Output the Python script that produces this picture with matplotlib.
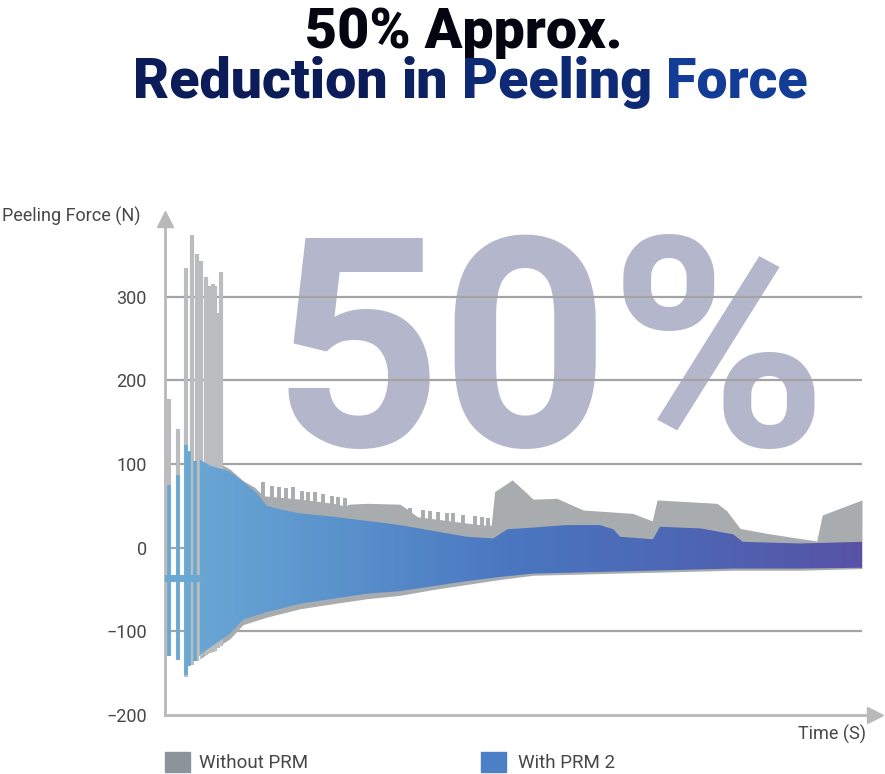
import numpy as np
import matplotlib
matplotlib.use('Agg')
import matplotlib.pyplot as plt
from matplotlib.patches import Rectangle
from matplotlib.colors import LinearSegmentedColormap

# ---- data ----
y_ticks = [-200, -100, 0, 100, 200, 300]
grid_levels = [-100, 0, 100, 200, 300]

# early isolated spikes, Without PRM
gray_spike_t = [0.6, 1.9, 3.0, 3.9, 4.6, 5.2, 5.9, 6.5, 6.9, 7.2, 7.6, 8.0]
gray_spike_hi = [178, 142, 334, 374, 351, 343, 323, 313, 315, 313, 281, 330]
gray_spike_lo = [-130, -134, -154, -140, -135, -130, -128, -126, -125, -124, -120, -118]

# comb of teeth on top of the grey band
gray_teeth_t = [14.1, 15.4, 16.4, 17.4, 18.4, 19.7, 20.5, 21.5, 22.7, 24.0, 24.8, 25.8,
                35.1, 37.0, 38.0, 39.2, 40.4, 41.3, 42.7, 44.5, 45.5, 46.3]
gray_teeth_hi = [78, 74, 73, 71, 72, 68, 67, 66, 64, 62, 61, 59,
                 47, 45, 44, 43, 41, 41, 39, 38, 37, 35]

# early isolated spikes, With PRM 2
blue_spike_t = [0.6, 1.9, 3.0, 3.5, 4.3]
blue_spike_hi = [75, 87, 123, 115, 103]
blue_spike_lo = [-130, -134, -152, -141, -136]

# dense part envelopes, Without PRM
gray_up_t = [5.0, 8.2, 9.3, 11.2, 12.9, 14.1, 19.4, 24.1, 25.8, 26.5, 29.0, 33.7, 35.1,
             36.2, 40.9, 45.6, 46.8, 47.3, 49.1, 49.8, 51.4, 52.8, 56.2, 60.0,
             67.1, 69.9, 70.6, 79.2, 80.6, 82.5, 86.4, 91.1, 93.5, 94.3, 96.8, 100.0]
gray_up = [100, 99, 94, 80, 72, 62, 58, 53, 50, 52, 53, 52, 44,
           37, 32, 27, 27, 67, 77, 81, 69, 58, 59, 45,
           41, 32, 57, 53, 44, 23, 17, 11, 8, 39, 47, 57]
gray_lo_t = [5.0, 6.5, 9.3, 11.2, 14.6, 19.4, 24.1, 29.0, 33.7, 38.5, 43.3, 48.1,
             52.8, 62.4, 72.0, 81.5, 91.1, 100.0]
gray_lo = [-133, -124, -109, -92, -83, -73, -67, -61, -57, -50, -44, -38,
           -33, -31, -29, -27, -27, -25]

# dense part envelopes, With PRM 2
blue_up_t = [5.0, 6.5, 9.3, 11.2, 13.2, 14.6, 16.9, 19.4, 24.1, 29.0, 33.7, 38.5,
             43.3, 47.1, 49.1, 52.8, 57.6, 62.4, 64.3, 65.3, 70.0, 71.0, 76.8,
             81.5, 82.9, 91.1, 100.0]
blue_up = [105, 98, 91, 79, 65, 50, 45, 41, 37, 32, 27, 20,
           13, 11, 22, 24, 27, 27, 22, 13, 10, 25, 23,
           16, 7, 5, 7]
blue_lo_t = [5.0, 9.3, 11.2, 14.6, 19.4, 24.1, 29.0, 33.7, 38.5, 43.3, 48.1,
             52.8, 62.4, 72.0, 81.5, 91.1, 100.0]
blue_lo = [-128, -103, -86, -77, -67, -61, -55, -52, -46, -40, -35, -31,
           -29, -27, -25, -25, -24]


def band(up_t, up, lo_t, lo):
    t = np.union1d(up_t, lo_t)
    return t, np.interp(t, up_t, up), np.interp(t, lo_t, lo)


# ---- figure ----
fig = plt.figure(figsize=(8.85, 7.74), dpi=100)
ax = fig.add_axes([165 / 885, 1 - 715 / 774, 103 * 6.97 / 885, 600 * 0.8367 / 774])
ax.set_xlim(0, 103)
ax.set_ylim(-200, 400)

txt_col = '#474747'
axis_col = '#b9b9b9'
for s in ['top', 'right']:
    ax.spines[s].set_visible(False)
for s in ['left', 'bottom']:
    ax.spines[s].set_color(axis_col)
    ax.spines[s].set_linewidth(2)
ax.spines['left'].set_bounds(-200, 392)
ax.spines['bottom'].set_bounds(0, 101.5)
ax.plot([0], [393], marker='^', ms=11, color=axis_col, clip_on=False, zorder=5)
ax.plot([101.8], [-200], marker='>', ms=11, color=axis_col, clip_on=False, zorder=5)

ax.set_xticks([])
ax.set_yticks(y_ticks)
ax.tick_params(axis='y', length=0, pad=13, labelsize=13, labelcolor=txt_col)
for lab in ax.get_yticklabels():
    lab.set_family('Roboto')

# big watermark
ax.text(55.2, 121, '50%', ha='center', va='baseline', fontsize=212,
        family='Roboto', fontweight='bold', color='#b4b7cb', zorder=0.5)

ax.hlines(grid_levels, 0, 100, color='#a4a4a4', lw=1.6, zorder=1)

# Without PRM
gray_col = '#a9acaf'
t, hi, lo = band(gray_up_t, gray_up, gray_lo_t, gray_lo)
ax.fill_between(t, hi, lo, color=gray_col, lw=0, zorder=2)
ax.vlines(gray_spike_t, gray_spike_lo, gray_spike_hi, color='#babcbe', lw=3, zorder=2)
ax.vlines(gray_teeth_t, np.interp(gray_teeth_t, gray_up_t, gray_up) - 5, gray_teeth_hi,
          color=gray_col, lw=2.8, zorder=2)

# With PRM 2 (gradient fill)
blue_cmap = LinearSegmentedColormap.from_list(
    'prm', ['#6cabd6', '#5a92cc', '#4a76c0', '#4d66b4', '#5852a6'])
t, hi, lo = band(blue_up_t, blue_up, blue_lo_t, blue_lo)
poly = ax.fill_between(t, hi, lo, color='none', lw=0, zorder=3)
grad = np.linspace(0, 1, 256).reshape(1, -1)
im = ax.imshow(grad, cmap=blue_cmap, extent=[0, 100, -200, 400], aspect='auto',
               zorder=3, interpolation='bilinear')
im.set_clip_path(poly.get_paths()[0], transform=ax.transData)
ax.vlines(blue_spike_t, blue_spike_lo, blue_spike_hi, color='#6aa8d4', lw=2.6, zorder=3)
ax.fill_between([0, 5.2], [-33, -33], [-41, -41], color='#6aa8d4', lw=0, zorder=3)

# axis labels
fig.text(2 / 885, 1 - 222 / 774, 'Peeling Force (N)', fontsize=13, family='Roboto',
         color=txt_col, ha='left', va='baseline')
fig.text(866 / 885, 1 - 740 / 774, 'Time (S)', fontsize=13, family='Roboto',
         color=txt_col, ha='right', va='baseline')

# legend
fig.patches.append(Rectangle((165 / 885, 1 - 772 / 774), 25 / 885, 20 / 774,
                             transform=fig.transFigure, color='#8b949a', figure=fig))
fig.text(199 / 885, 1 - 768 / 774, 'Without PRM', fontsize=13.5, family='Roboto',
         color=txt_col, ha='left', va='baseline')
fig.patches.append(Rectangle((481 / 885, 1 - 772 / 774), 25 / 885, 20 / 774,
                             transform=fig.transFigure, color='#4b7fc6', figure=fig))
fig.text(518 / 885, 1 - 768 / 774, 'With PRM 2', fontsize=13.5, family='Roboto',
         color=txt_col, ha='left', va='baseline')

# title
fig.text(464 / 885, 1 - 48 / 774, '50% Approx.', fontsize=40, family='Roboto',
         fontweight='black', color='#050512', ha='center', va='baseline')

words = ['Reduction', 'in', 'Peeling', 'Force']
word_cols = ['#0b1c58', '#0c2262', '#0e2a74', '#133c96']
renderer = fig.canvas.get_renderer()
widths = []
for i in range(len(words)):
    tt = fig.text(0, 0, ' '.join(words[:i + 1]), fontsize=40, family='Roboto',
                  fontweight='black')
    widths.append(tt.get_window_extent(renderer).width)
    tt.remove()
x0 = 470 - widths[-1] / 2
for w, word, c in zip(widths, words, word_cols):
    fig.text((x0 + w) / 885, 1 - 98 / 774, word, fontsize=40, family='Roboto',
             fontweight='black', color=c, ha='right', va='baseline')

fig.savefig('out.png', dpi=100)
